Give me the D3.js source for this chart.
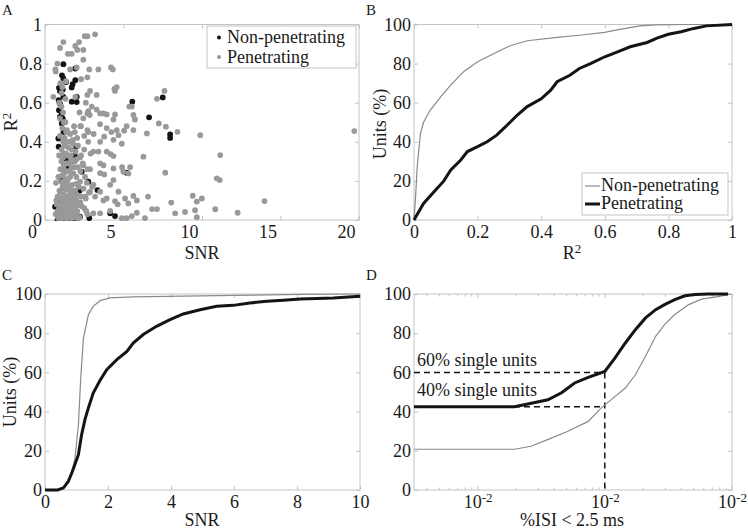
<!DOCTYPE html>
<html><head><meta charset="utf-8">
<script src="https://cdn.jsdelivr.net/npm/d3@7"></script>
<style>
body{margin:0;background:#fff}
svg{display:block}
svg text{font-family:"Liberation Serif","Times New Roman",Times,serif !important;fill:#1a1a1a}
</style>
</head><body><svg id="c" width="748" height="530"></svg>
<script>
// ---------------- DATA ----------------
const seriesNames = ["Non-penetrating", "Penetrating"];
const panelLetters = ["A", "B", "C", "D"];

// Panel A scatter: [SNR, R2]
const scatterNonPen = [[1.17,0.797],[1.93,0.775],[1.08,0.74],[1.17,0.724],[1.34,0.706],[1.93,0.715],[1.76,0.695],[1.70,0.678],[0.89,0.676],[0.95,0.66],[1.13,0.668],[2.02,0.63],[1.70,0.605],[2.02,0.603],[0.87,0.613],[0.95,0.596],[1.17,0.63],[0.89,0.562],[1.07,0.545],[0.95,0.528],[1.13,0.52],[1.07,0.494],[1.17,0.45],[0.85,0.417],[0.87,0.375],[1.98,0.375],[1.27,0.34],[1.38,0.307],[2.34,0.247],[5.20,0.242],[2.76,0.196],[3.34,0.153],[5.56,0.605],[7.50,0.627],[6.63,0.525],[7.97,0.438],[7.97,0.42],[4.15,0.034],[4.46,0.02],[2.23,0.017],[2.82,0.009],[0.64,0.068],[1.48,0.264],[1.17,0.324],[0.8,0.0],[0.95,0.0],[1.1,0.0],[1.25,0.0],[1.4,0.0],[1.55,0.0],[1.7,0.0],[1.85,0.0],[2.0,0.0],[0.75,0.03],[1.0,0.1],[1.05,0.2],[2.2,0.15],[1.9,0.33]];

const scatterPen = [[3.19,0.95],[2.53,0.94],[2.70,0.94],[1.17,0.91],[2.17,0.91],[1.93,0.89],[2.44,0.87],[0.96,0.88],[1.46,0.85],[1.70,0.85],[2.06,0.87],[0.79,0.80],[0.66,0.77],[0.68,0.76],[2.44,0.82],[1.60,0.77],[2.02,0.78],[3.40,0.77],[2.82,0.77],[4.20,0.78],[4.32,0.77],[2.70,0.73],[1.33,0.71],[2.87,0.66],[4.46,0.66],[4.57,0.68],[4.42,0.67],[7.61,0.66],[7.13,0.62],[5.53,0.58],[5.37,0.58],[2.70,0.64],[1.93,0.63],[3.29,0.64],[0.53,0.63],[2.98,0.58],[3.29,0.565],[2.76,0.557],[3.51,0.545],[3.72,0.545],[3.93,0.54],[2.70,0.545],[2.44,0.52],[2.85,0.537],[4.46,0.54],[4.36,0.514],[5.63,0.537],[5.73,0.514],[5.63,0.46],[5.20,0.48],[5.04,0.457],[3.51,0.49],[2.29,0.48],[2.76,0.45],[3.93,0.47],[4.23,0.45],[4.57,0.46],[4.36,0.41],[4.68,0.434],[3.77,0.426],[6.49,0.443],[7.25,0.494],[7.70,0.477],[8.44,0.451],[9.89,0.434],[11.16,0.332],[10.94,0.213],[11.13,0.204],[19.7,0.455],[7.66,0.242],[6.27,0.324],[4.89,0.39],[3.51,0.40],[3.40,0.35],[3.08,0.35],[3.93,0.35],[4.18,0.337],[4.36,0.327],[3.51,0.29],[3.72,0.28],[2.23,0.32],[2.44,0.28],[2.87,0.26],[3.51,0.24],[3.77,0.233],[4.36,0.264],[4.91,0.27],[4.99,0.247],[5.42,0.27],[5.31,0.238],[4.36,0.204],[4.15,0.18],[3.08,0.18],[2.66,0.19],[2.23,0.196],[3.51,0.145],[2.87,0.145],[2.55,0.12],[3.19,0.12],[3.72,0.10],[3.93,0.11],[4.68,0.145],[5.10,0.11],[4.46,0.097],[4.63,0.08],[5.31,0.085],[5.63,0.123],[5.85,0.10],[6.56,0.12],[8.04,0.089],[9.41,0.124],[9.67,0.094],[9.99,0.11],[6.82,0.056],[7.13,0.056],[8.92,0.041],[9.56,0.05],[10.84,0.055],[12.27,0.037],[13.98,0.097],[9.67,0.014],[8.29,0.034],[6.37,0.009],[5.85,0.037],[4.89,0.009],[5.20,0.009],[5.53,0.02],[3.51,0.034],[3.08,0.034],[2.62,0.046],[4.15,0.046],
[0.85,0.01],[0.95,0.02],[1.05,0.008],[1.15,0.03],[1.25,0.015],[1.35,0.04],[1.45,0.02],[1.55,0.05],[1.65,0.01],[1.75,0.035],[1.85,0.06],[1.95,0.025],[2.05,0.045],[2.2,0.015],[2.35,0.07],[0.9,0.06],[1.0,0.08],[1.1,0.055],[1.2,0.09],[1.3,0.07],[1.4,0.095],[1.5,0.075],[1.6,0.085],[1.7,0.065],[1.8,0.09],[1.9,0.08],[2.0,0.1],[2.1,0.075],[2.25,0.09],[2.5,0.06],[2.7,0.03],[1.02,0.035],[1.12,0.045],[1.32,0.01],[1.48,0.06],[1.62,0.03],[1.78,0.012],[1.92,0.05],[2.12,0.01],[0.78,0.04],[0.75,0.08],[0.72,0.1],[0.68,0.03],
[0.8,0.12],[0.92,0.15],[1.02,0.11],[1.12,0.17],[1.22,0.13],[1.32,0.19],[1.42,0.12],[1.52,0.16],[1.62,0.14],[1.72,0.18],[1.82,0.11],[1.92,0.15],[2.02,0.13],[2.15,0.17],[2.3,0.12],[2.45,0.16],[2.6,0.11],[2.8,0.14],[1.08,0.195],[1.38,0.155],[1.68,0.105],[1.98,0.185],[0.7,0.19],[3.0,0.17],
[0.85,0.22],[0.98,0.26],[1.1,0.23],[1.2,0.28],[1.3,0.21],[1.4,0.25],[1.5,0.29],[1.6,0.22],[1.7,0.27],[1.8,0.24],[1.9,0.3],[2.0,0.22],[2.1,0.27],[2.25,0.25],[2.4,0.29],[2.55,0.22],[2.7,0.26],[1.05,0.3],[1.45,0.205],[1.75,0.3],
[0.9,0.33],[1.05,0.36],[1.15,0.32],[1.25,0.38],[1.35,0.34],[1.5,0.37],[1.65,0.33],[1.8,0.39],[1.95,0.35],[2.1,0.38],[2.3,0.33],[2.5,0.36],[2.75,0.4],[2.9,0.34],[1.4,0.4],[2.0,0.31],
[0.95,0.43],[1.1,0.47],[1.25,0.42],[1.4,0.46],[1.6,0.44],[1.75,0.41],[1.9,0.45],[2.05,0.42],[2.25,0.48],[2.5,0.43],[2.7,0.46],[3.1,0.44],[1.3,0.5],
[0.95,0.52],[1.05,0.58],[1.15,0.55],[1.3,0.62],[1.05,0.65],[0.9,0.6],[1.2,0.5],[2.2,0.55],[2.6,0.6],[0.98,0.7],[1.1,0.68],[2.3,0.72],
[1.0,0.015],[1.2,0.025],[1.4,0.01],[1.6,0.045],[1.8,0.025],[2.0,0.012],[1.1,0.1],[1.3,0.12],[1.5,0.105],[1.7,0.13],[1.9,0.12],[1.0,0.14],[1.2,0.16],[1.4,0.18],[1.6,0.17],[1.8,0.15],[1.25,0.24],[1.55,0.25],[1.85,0.27],[1.15,0.26],[1.35,0.29],[1.65,0.31],[1.2,0.34],[1.45,0.33],[1.7,0.36],[1.55,0.4],[1.15,0.4],[1.35,0.45],[1.85,0.48]];

// Panel B cumulative: [R2, % units]
const cdfR2NonPen = [[0,0],[0.005,12],[0.01,27],[0.02,44],[0.03,50],[0.05,56],[0.084,63],[0.115,69],[0.157,76],[0.2,81],[0.25,85],[0.3,89],[0.356,91.7],[0.45,93.4],[0.52,94.5],[0.6,96],[0.63,97],[0.71,99.3],[0.76,99.8],[0.85,100],[1,100]];
const cdfR2Pen = [[0,0],[0.03,8.5],[0.063,14.5],[0.094,20],[0.115,25.5],[0.147,30.7],[0.168,35],[0.2,37.5],[0.23,40],[0.26,43.4],[0.293,48.5],[0.325,53.7],[0.356,58],[0.4,62],[0.43,66.4],[0.45,70.7],[0.49,74],[0.52,77.5],[0.555,80],[0.6,83.5],[0.64,86],[0.68,88.6],[0.733,90.8],[0.764,93],[0.8,95],[0.84,96.3],[0.88,98],[0.92,99.3],[1,100]];

// Panel C cumulative: [SNR, % units]
const cdfSnrNonPen = [[0,0],[0.37,0],[0.55,1],[0.69,2.7],[0.85,9.5],[0.95,16],[1.06,33],[1.13,55.8],[1.22,77.5],[1.38,89.5],[1.53,93.7],[1.75,96.6],[2.06,98],[2.8,98.5],[3.86,98.8],[6,99.3],[8.1,99.8],[10,100]];
const cdfSnrPen = [[0,0],[0.4,0],[0.58,1],[0.74,4.4],[0.85,8.7],[0.95,13],[1.06,18],[1.16,28],[1.27,36],[1.38,42],[1.53,49.5],[1.75,56],[1.96,61.4],[2.28,66.5],[2.6,70.7],[2.8,75],[3.12,79.3],[3.54,83.5],[3.97,86.9],[4.39,89.8],[4.92,92],[5.45,93.7],[5.98,94.2],[6.5,95.4],[7.04,96.3],[7.57,96.8],[8.1,97.4],[9.15,98],[10,98.8]];

// Panel D cumulative: [%ISI < 2.5 ms, % units]
const cdfIsiNonPen = [[3.16e-4,20.8],[1.95e-3,20.8],[2.63e-3,22.3],[3.55e-3,25.7],[5.13e-3,30],[7.41e-3,35],[9.33e-3,41.8],[1.12e-2,46],[1.45e-2,52],[1.74e-2,58.8],[2.09e-2,68.2],[2.51e-2,78.4],[2.95e-2,84.4],[3.55e-2,89.5],[4.57e-2,94.6],[5.75e-2,97.4],[7.94e-2,98.8],[9.8e-2,100]];
const cdfIsiPen = [[3.16e-4,42.5],[1.95e-3,42.5],[2.48e-3,43.9],[3.57e-3,46],[4.57e-3,49.6],[5.79e-3,54.6],[7.41e-3,57.5],[1e-2,60.5],[1.2e-2,67.3],[1.45e-2,75],[1.74e-2,81.8],[2.09e-2,87.8],[2.51e-2,92],[2.95e-2,94.6],[3.55e-2,97.1],[4.27e-2,99.1],[5.13e-2,99.7],[6.5e-2,100],[9.3e-2,100]];
const singleUnitLevels = [60, 42.5];
const singleUnitLabels = ["60% single units", "40% single units"];
const isiThreshold = 1e-2;

// Tick labels
const ticksA_x = [0, 5, 10, 15, 20];
const ticksA_y = [0, 0.2, 0.4, 0.6, 0.8, 1];
const ticksB_x = [0, 0.2, 0.4, 0.6, 0.8, 1];
const ticksPct = [0, 20, 40, 60, 80, 100];
const ticksC_x = [0, 2, 4, 6, 8, 10];
const ticksD_x = [1e-3, 1e-2, 1e-1];
const ticksD_xLabel = ["10", "-2"];

// ---------------- DRAWING ----------------
const FONT = '"Liberation Serif","Times New Roman",Times,serif';
const svg = d3.select("#c").attr("font-family", FONT);
const AXC = "#c4c4c4";
const GRAY = "#999999";
const LGRAY = "#8a8a8a";
const BLACK = "#141414";
const fmt = d => String(+d.toFixed(4));

function frame(x, y, xt, yt, opts = {}) {
  const [x0, x1] = x.range(), [y0, y1] = y.range(); // y0 bottom
  const g = svg.append("g");
  const ax = (gen, tr) => {
    const a = g.append("g").attr("transform", tr).call(gen);
    a.attr("font-family", FONT).attr("font-size", 18);
    a.select(".domain").remove();
    a.selectAll(".tick line").attr("stroke", AXC);
    a.selectAll("text").attr("fill", "#1a1a1a");
    return a;
  };
  const bx = ax(d3.axisBottom(x).tickValues(xt).tickSize(-4).tickPadding(5).tickFormat(opts.xFmt || fmt), `translate(0,${y0})`);
  ax(d3.axisTop(x).tickValues(xt).tickSize(-4).tickFormat(""), `translate(0,${y1})`);
  ax(d3.axisLeft(y).tickValues(yt).tickSize(-4).tickPadding(3).tickFormat(fmt), `translate(${x0},0)`);
  ax(d3.axisRight(y).tickValues(yt).tickSize(-4).tickFormat(""), `translate(${x1},0)`);
  g.append("rect").attr("x", x0).attr("y", y1).attr("width", x1 - x0).attr("height", y0 - y1)
    .attr("fill", "none").attr("stroke", AXC).attr("stroke-width", 1);
  return { g, bx };
}
function sup(sel, base, s) {
  sel.text(base).append("tspan").attr("dy", "-0.45em").attr("font-size", 13).text(s);
}
function txt(x, y, s, anchor) {
  return svg.append("text").attr("x", x).attr("y", y).attr("font-size", 18)
    .attr("font-family", FONT).attr("text-anchor", anchor || "start").text(s);
}

// ---- Panel A ----
const xA = d3.scaleLinear().domain([0, 20]).range([45, 359]);
const yA = d3.scaleLinear().domain([0, 1]).range([220, 24.5]);
const fA = frame(xA, yA, ticksA_x, ticksA_y);
fA.bx.selectAll("text").attr("dx", -13);
svg.append("clipPath").attr("id", "clipA").append("rect").attr("x", 45).attr("y", 20).attr("width", 316).attr("height", 201);
const gA = svg.append("g").attr("clip-path", "url(#clipA)");
gA.selectAll("circle.np").data(scatterNonPen).join("circle").attr("class", "np")
  .attr("cx", d => xA(d[0])).attr("cy", d => yA(d[1])).attr("r", 2.9).attr("fill", BLACK);
gA.selectAll("circle.p").data(scatterPen).join("circle").attr("class", "p")
  .attr("cx", d => xA(d[0])).attr("cy", d => yA(d[1])).attr("r", 2.9).attr("fill", GRAY);
// legend A
svg.append("rect").attr("x", 207).attr("y", 26).attr("width", 149).attr("height", 42)
  .attr("fill", "#fff").attr("stroke", AXC);
[BLACK, GRAY].forEach((c, i) => {
  svg.append("circle").attr("cx", 219).attr("cy", 37.5 + i * 19.5).attr("r", 2).attr("fill", c);
  txt(227, 43 + i * 19.5, seriesNames[i]);
});
txt(202, 259, "SNR", "middle");
sup(svg.append("text").attr("transform", "translate(17,122) rotate(-90)").attr("text-anchor", "middle")
  .attr("font-size", 18).attr("font-family", FONT), "R", "2");

// ---- Panel B ----
const xB = d3.scaleLinear().domain([0, 1]).range([414, 732]);
const yB = d3.scaleLinear().domain([0, 100]).range([220, 24.5]);
frame(xB, yB, ticksB_x, ticksPct);
const lineB = d3.line().x(d => xB(d[0])).y(d => yB(d[1]));
svg.append("path").datum(cdfR2NonPen).attr("d", lineB).attr("fill", "none").attr("stroke", LGRAY).attr("stroke-width", 1.2);
svg.append("path").datum(cdfR2Pen).attr("d", lineB).attr("fill", "none").attr("stroke", BLACK).attr("stroke-width", 3);
svg.append("rect").attr("x", 582).attr("y", 173).attr("width", 146).attr("height", 42)
  .attr("fill", "#fff").attr("stroke", AXC);
[[LGRAY, 1.2], [BLACK, 3]].forEach((s, i) => {
  svg.append("line").attr("x1", 585).attr("x2", 600).attr("y1", 186 + i * 18).attr("y2", 186 + i * 18)
    .attr("stroke", s[0]).attr("stroke-width", s[1]);
  txt(601, 191 + i * 18, seriesNames[i]);
});
sup(txt(572, 259, "", "middle"), "R", "2");
svg.append("text").attr("transform", "translate(386,124) rotate(-90)").attr("text-anchor", "middle")
  .attr("font-size", 18).attr("font-family", FONT).text("Units (%)");

// ---- Panel C ----
const xC = d3.scaleLinear().domain([0, 10]).range([45, 360]);
const yC = d3.scaleLinear().domain([0, 100]).range([490, 294]);
frame(xC, yC, ticksC_x, ticksPct);
const lineC = d3.line().x(d => xC(d[0])).y(d => yC(d[1]));
svg.append("path").datum(cdfSnrNonPen).attr("d", lineC).attr("fill", "none").attr("stroke", LGRAY).attr("stroke-width", 1.2);
svg.append("path").datum(cdfSnrPen).attr("d", lineC).attr("fill", "none").attr("stroke", BLACK).attr("stroke-width", 3);
txt(202, 526, "SNR", "middle");
svg.append("text").attr("transform", "translate(16,392) rotate(-90)").attr("text-anchor", "middle")
  .attr("font-size", 18).attr("font-family", FONT).text("Units (%)");

// ---- Panel D ----
const xD = d3.scaleLog().domain([Math.pow(10, -3.5), 1e-1]).range([414, 732]);
const yD = d3.scaleLinear().domain([0, 100]).range([490, 294]);
const fD = frame(xD, yD, ticksD_x, ticksPct, { xFmt: () => "" });
fD.bx.selectAll(".tick text").each(function () { sup(d3.select(this), ticksD_xLabel[0], ticksD_xLabel[1]); });
const minor = xD.ticks().filter(v => !ticksD_x.includes(v));
const gm = svg.append("g");
gm.selectAll("line.b").data(minor).join("line").attr("x1", d => xD(d)).attr("x2", d => xD(d))
  .attr("y1", 490).attr("y2", 487.5).attr("stroke", AXC);
gm.selectAll("line.t").data(minor).join("line").attr("x1", d => xD(d)).attr("x2", d => xD(d))
  .attr("y1", 294).attr("y2", 296.5).attr("stroke", AXC);
const lineD = d3.line().x(d => xD(d[0])).y(d => yD(d[1]));
const dash = "6,4";
singleUnitLevels.forEach(v => {
  svg.append("line").attr("x1", xD.range()[0]).attr("x2", xD(isiThreshold)).attr("y1", yD(v)).attr("y2", yD(v))
    .attr("stroke", BLACK).attr("stroke-width", 1.5).attr("stroke-dasharray", dash);
});
svg.append("line").attr("x1", xD(isiThreshold)).attr("x2", xD(isiThreshold)).attr("y1", yD(singleUnitLevels[0])).attr("y2", yD(0))
  .attr("stroke", BLACK).attr("stroke-width", 1.5).attr("stroke-dasharray", dash);
svg.append("path").datum(cdfIsiNonPen).attr("d", lineD).attr("fill", "none").attr("stroke", LGRAY).attr("stroke-width", 1.2);
svg.append("path").datum(cdfIsiPen).attr("d", lineD).attr("fill", "none").attr("stroke", BLACK).attr("stroke-width", 3);
singleUnitLabels.forEach((t, i) => txt(417, [366, 396][i], t));
txt(572, 526, "%ISI < 2.5 ms", "middle");

// ---- Panel letters ----
[[2, 15], [366, 15], [2, 280], [366, 280]].forEach((p, i) => {
  svg.append("text").attr("x", p[0]).attr("y", p[1]).attr("font-size", 15).attr("font-family", FONT).text(panelLetters[i]);
});
</script>
</body></html>
